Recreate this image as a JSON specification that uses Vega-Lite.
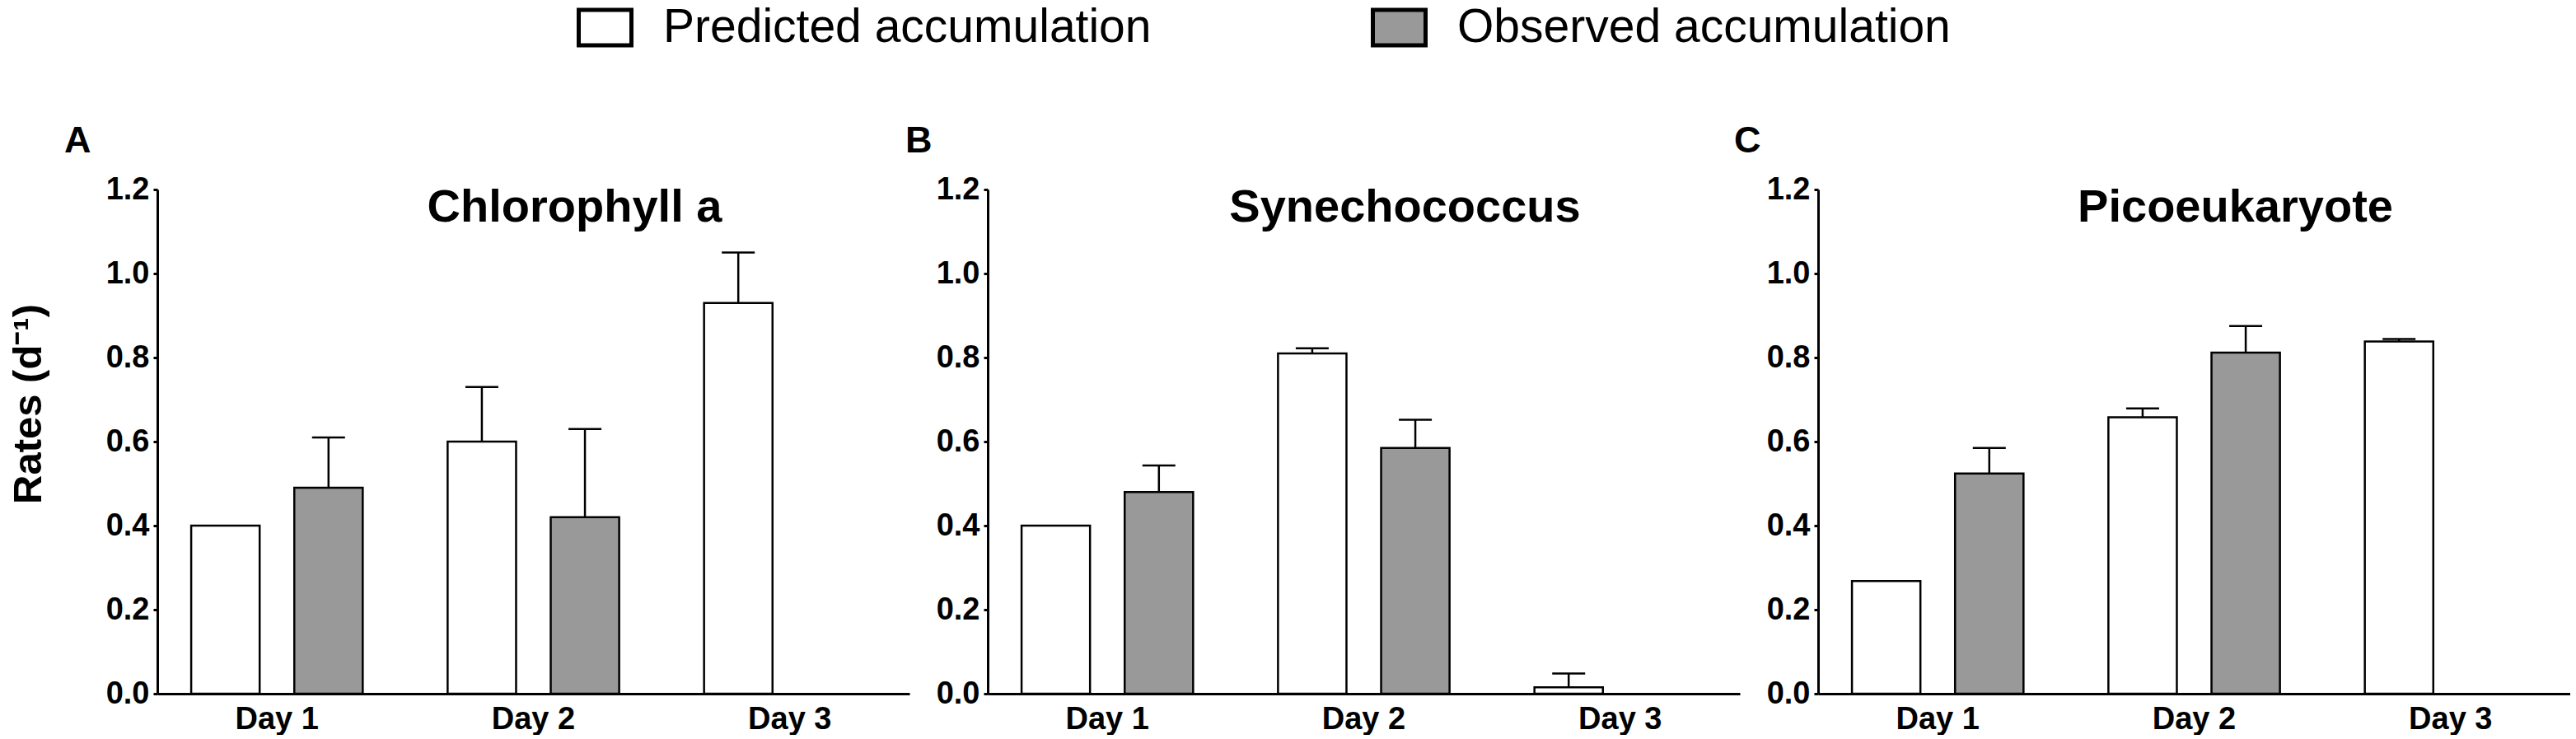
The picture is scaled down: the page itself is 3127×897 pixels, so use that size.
{
  "$schema": "https://vega.github.io/schema/vega-lite/v6.json",
  "background": "white",
  "padding": {"left": 9, "top": 5, "right": 0, "bottom": 0},
  "config": {
    "font": "Liberation Sans",
    "view": {"stroke": null},
    "axis": {"grid": false, "domainColor": "black", "domainWidth": 3, "tickColor": "black", "tickWidth": 3, "labelColor": "black", "titleColor": "black", "labelFont": "Liberation Sans", "titleFont": "Liberation Sans"},
    "title": {"font": "Liberation Sans", "color": "black"}
  },
  "datasets": {
    "bars": [
      {"panel": "A", "day": "Day 1", "type": "Predicted accumulation", "value": 0.40, "upper": null},
      {"panel": "A", "day": "Day 1", "type": "Observed accumulation", "value": 0.49, "upper": 0.61},
      {"panel": "A", "day": "Day 2", "type": "Predicted accumulation", "value": 0.60, "upper": 0.73},
      {"panel": "A", "day": "Day 2", "type": "Observed accumulation", "value": 0.42, "upper": 0.63},
      {"panel": "A", "day": "Day 3", "type": "Predicted accumulation", "value": 0.93, "upper": 1.05},
      {"panel": "B", "day": "Day 1", "type": "Predicted accumulation", "value": 0.40, "upper": null},
      {"panel": "B", "day": "Day 1", "type": "Observed accumulation", "value": 0.48, "upper": 0.543},
      {"panel": "B", "day": "Day 2", "type": "Predicted accumulation", "value": 0.81, "upper": 0.822},
      {"panel": "B", "day": "Day 2", "type": "Observed accumulation", "value": 0.585, "upper": 0.652},
      {"panel": "B", "day": "Day 3", "type": "Predicted accumulation", "value": 0.015, "upper": 0.048},
      {"panel": "C", "day": "Day 1", "type": "Predicted accumulation", "value": 0.268, "upper": null},
      {"panel": "C", "day": "Day 1", "type": "Observed accumulation", "value": 0.524, "upper": 0.585},
      {"panel": "C", "day": "Day 2", "type": "Predicted accumulation", "value": 0.658, "upper": 0.679},
      {"panel": "C", "day": "Day 2", "type": "Observed accumulation", "value": 0.812, "upper": 0.875},
      {"panel": "C", "day": "Day 3", "type": "Predicted accumulation", "value": 0.838, "upper": 0.844}
    ],
    "names": [
      {"panel": "A", "name": "Chlorophyll a"},
      {"panel": "B", "name": "Synechococcus"},
      {"panel": "C", "name": "Picoeukaryote"}
    ]
  },
  "bounds": "flush",
  "spacing": 95,
  "hconcat": [
    {
      "width": 913, "height": 612,
      "title": {"text": "A", "anchor": "start", "frame": "group", "dx": -113, "offset": -19, "baseline": "alphabetic", "fontSize": 45, "fontWeight": "bold"},
      "layer": [
        {
          "data": {"name": "bars"},
          "transform": [{"filter": "datum.panel === 'A'"}],
          "mark": {"type": "bar", "stroke": "black", "strokeWidth": 2.5},
          "encoding": {
            "x": {"field": "day", "type": "nominal", "title": null, "scale": {"domain": ["Day 1", "Day 2", "Day 3"], "paddingInner": 0.331, "paddingOuter": 0.132}, "axis": {"ticks": false, "labelAngle": 0, "labelFontSize": 38, "labelFontWeight": "bold", "labelPadding": 12}},
            "xOffset": {"field": "type", "type": "nominal", "scale": {"domain": ["Predicted accumulation", "Observed accumulation"], "paddingInner": 0.336, "paddingOuter": 0}},
            "y": {"field": "value", "type": "quantitative", "scale": {"domain": [0, 1.2]}, "axis": {"values": [0, 0.2, 0.4, 0.6, 0.8, 1.0, 1.2], "format": ".1f", "tickSize": 5, "labelPadding": 5, "labelFontSize": 38, "labelFontWeight": "bold", "title": "Rates (d⁻¹)", "titleFontSize": 49, "titleFontWeight": "bold", "titleX": -142, "titleY": 260, "titleBaseline": "alphabetic"}},
            "fill": {"field": "type", "type": "nominal", "scale": {"domain": ["Predicted accumulation", "Observed accumulation"], "range": ["#ffffff", "#999999"]},
              "legend": {"orient": "none", "legendX": 515, "legendY": -225, "direction": "horizontal", "title": null, "padding": 0, "symbolType": "M-1.488,-1H1.488V1H-1.488Z", "symbolSize": 1849, "symbolStrokeColor": "black", "symbolStrokeWidth": 5, "symbolOpacity": 1, "labelFontSize": 57, "labelFont": "Liberation Sans", "labelColor": "black", "labelOffset": 42, "columnPadding": 258, "labelLimit": 1000}}
          }
        },
        {
          "data": {"name": "bars"},
          "transform": [{"filter": "datum.panel === 'A' && datum.upper != null"}],
          "mark": {"type": "rule", "color": "black", "strokeWidth": 2.5},
          "encoding": {
            "x": {"field": "day", "type": "nominal"},
            "xOffset": {"field": "type", "type": "nominal"},
            "y": {"field": "value", "type": "quantitative"},
            "y2": {"field": "upper"}
          }
        },
        {
          "data": {"name": "bars"},
          "transform": [{"filter": "datum.panel === 'A' && datum.upper != null"}],
          "mark": {"type": "tick", "orient": "horizontal", "color": "black", "size": 40, "thickness": 2.5, "opacity": 1},
          "encoding": {
            "x": {"field": "day", "type": "nominal"},
            "xOffset": {"field": "type", "type": "nominal"},
            "y": {"field": "upper", "type": "quantitative"}
          }
        },
        {
          "data": {"name": "names"},
          "transform": [{"filter": "datum.panel === 'A'"}],
          "mark": {"type": "text", "fontSize": 56, "fontWeight": "bold", "baseline": "alphabetic", "align": "center", "dx": 50, "dy": 39, "color": "black"},
          "encoding": {
            "x": {"datum": "Day 2", "type": "nominal"},
            "y": {"datum": 1.2, "type": "quantitative"},
            "text": {"field": "name", "type": "nominal"}
          }
        }
      ]
    },
    {
      "width": 913, "height": 612,
      "title": {"text": "B", "anchor": "start", "frame": "group", "dx": -100, "offset": -19, "baseline": "alphabetic", "fontSize": 45, "fontWeight": "bold"},
      "layer": [
        {
          "data": {"name": "bars"},
          "transform": [{"filter": "datum.panel === 'B'"}],
          "mark": {"type": "bar", "stroke": "black", "strokeWidth": 2.5},
          "encoding": {
            "x": {"field": "day", "type": "nominal", "title": null, "scale": {"domain": ["Day 1", "Day 2", "Day 3"], "paddingInner": 0.331, "paddingOuter": 0.132}, "axis": {"ticks": false, "labelAngle": 0, "labelFontSize": 38, "labelFontWeight": "bold", "labelPadding": 12}},
            "xOffset": {"field": "type", "type": "nominal", "scale": {"domain": ["Predicted accumulation", "Observed accumulation"], "paddingInner": 0.336, "paddingOuter": 0}},
            "y": {"field": "value", "type": "quantitative", "scale": {"domain": [0, 1.2]}, "axis": {"values": [0, 0.2, 0.4, 0.6, 0.8, 1.0, 1.2], "format": ".1f", "tickSize": 5, "labelPadding": 5, "labelFontSize": 38, "labelFontWeight": "bold", "title": null}},
            "fill": {"field": "type", "type": "nominal", "scale": {"domain": ["Predicted accumulation", "Observed accumulation"], "range": ["#ffffff", "#999999"]}}
          }
        },
        {
          "data": {"name": "bars"},
          "transform": [{"filter": "datum.panel === 'B' && datum.upper != null"}],
          "mark": {"type": "rule", "color": "black", "strokeWidth": 2.5},
          "encoding": {
            "x": {"field": "day", "type": "nominal"},
            "xOffset": {"field": "type", "type": "nominal"},
            "y": {"field": "value", "type": "quantitative"},
            "y2": {"field": "upper"}
          }
        },
        {
          "data": {"name": "bars"},
          "transform": [{"filter": "datum.panel === 'B' && datum.upper != null"}],
          "mark": {"type": "tick", "orient": "horizontal", "color": "black", "size": 40, "thickness": 2.5, "opacity": 1},
          "encoding": {
            "x": {"field": "day", "type": "nominal"},
            "xOffset": {"field": "type", "type": "nominal"},
            "y": {"field": "upper", "type": "quantitative"}
          }
        },
        {
          "data": {"name": "names"},
          "transform": [{"filter": "datum.panel === 'B'"}],
          "mark": {"type": "text", "fontSize": 56, "fontWeight": "bold", "baseline": "alphabetic", "align": "center", "dx": 50, "dy": 39, "color": "black"},
          "encoding": {
            "x": {"datum": "Day 2", "type": "nominal"},
            "y": {"datum": 1.2, "type": "quantitative"},
            "text": {"field": "name", "type": "nominal"}
          }
        }
      ]
    },
    {
      "width": 913, "height": 612,
      "title": {"text": "C", "anchor": "start", "frame": "group", "dx": -102, "offset": -19, "baseline": "alphabetic", "fontSize": 45, "fontWeight": "bold"},
      "layer": [
        {
          "data": {"name": "bars"},
          "transform": [{"filter": "datum.panel === 'C'"}],
          "mark": {"type": "bar", "stroke": "black", "strokeWidth": 2.5},
          "encoding": {
            "x": {"field": "day", "type": "nominal", "title": null, "scale": {"domain": ["Day 1", "Day 2", "Day 3"], "paddingInner": 0.331, "paddingOuter": 0.132}, "axis": {"ticks": false, "labelAngle": 0, "labelFontSize": 38, "labelFontWeight": "bold", "labelPadding": 12}},
            "xOffset": {"field": "type", "type": "nominal", "scale": {"domain": ["Predicted accumulation", "Observed accumulation"], "paddingInner": 0.336, "paddingOuter": 0}},
            "y": {"field": "value", "type": "quantitative", "scale": {"domain": [0, 1.2]}, "axis": {"values": [0, 0.2, 0.4, 0.6, 0.8, 1.0, 1.2], "format": ".1f", "tickSize": 5, "labelPadding": 5, "labelFontSize": 38, "labelFontWeight": "bold", "title": null}},
            "fill": {"field": "type", "type": "nominal", "scale": {"domain": ["Predicted accumulation", "Observed accumulation"], "range": ["#ffffff", "#999999"]}}
          }
        },
        {
          "data": {"name": "bars"},
          "transform": [{"filter": "datum.panel === 'C' && datum.upper != null"}],
          "mark": {"type": "rule", "color": "black", "strokeWidth": 2.5},
          "encoding": {
            "x": {"field": "day", "type": "nominal"},
            "xOffset": {"field": "type", "type": "nominal"},
            "y": {"field": "value", "type": "quantitative"},
            "y2": {"field": "upper"}
          }
        },
        {
          "data": {"name": "bars"},
          "transform": [{"filter": "datum.panel === 'C' && datum.upper != null"}],
          "mark": {"type": "tick", "orient": "horizontal", "color": "black", "size": 40, "thickness": 2.5, "opacity": 1},
          "encoding": {
            "x": {"field": "day", "type": "nominal"},
            "xOffset": {"field": "type", "type": "nominal"},
            "y": {"field": "upper", "type": "quantitative"}
          }
        },
        {
          "data": {"name": "names"},
          "transform": [{"filter": "datum.panel === 'C'"}],
          "mark": {"type": "text", "fontSize": 56, "fontWeight": "bold", "baseline": "alphabetic", "align": "center", "dx": 50, "dy": 39, "color": "black"},
          "encoding": {
            "x": {"datum": "Day 2", "type": "nominal"},
            "y": {"datum": 1.2, "type": "quantitative"},
            "text": {"field": "name", "type": "nominal"}
          }
        }
      ]
    }
  ]
}
